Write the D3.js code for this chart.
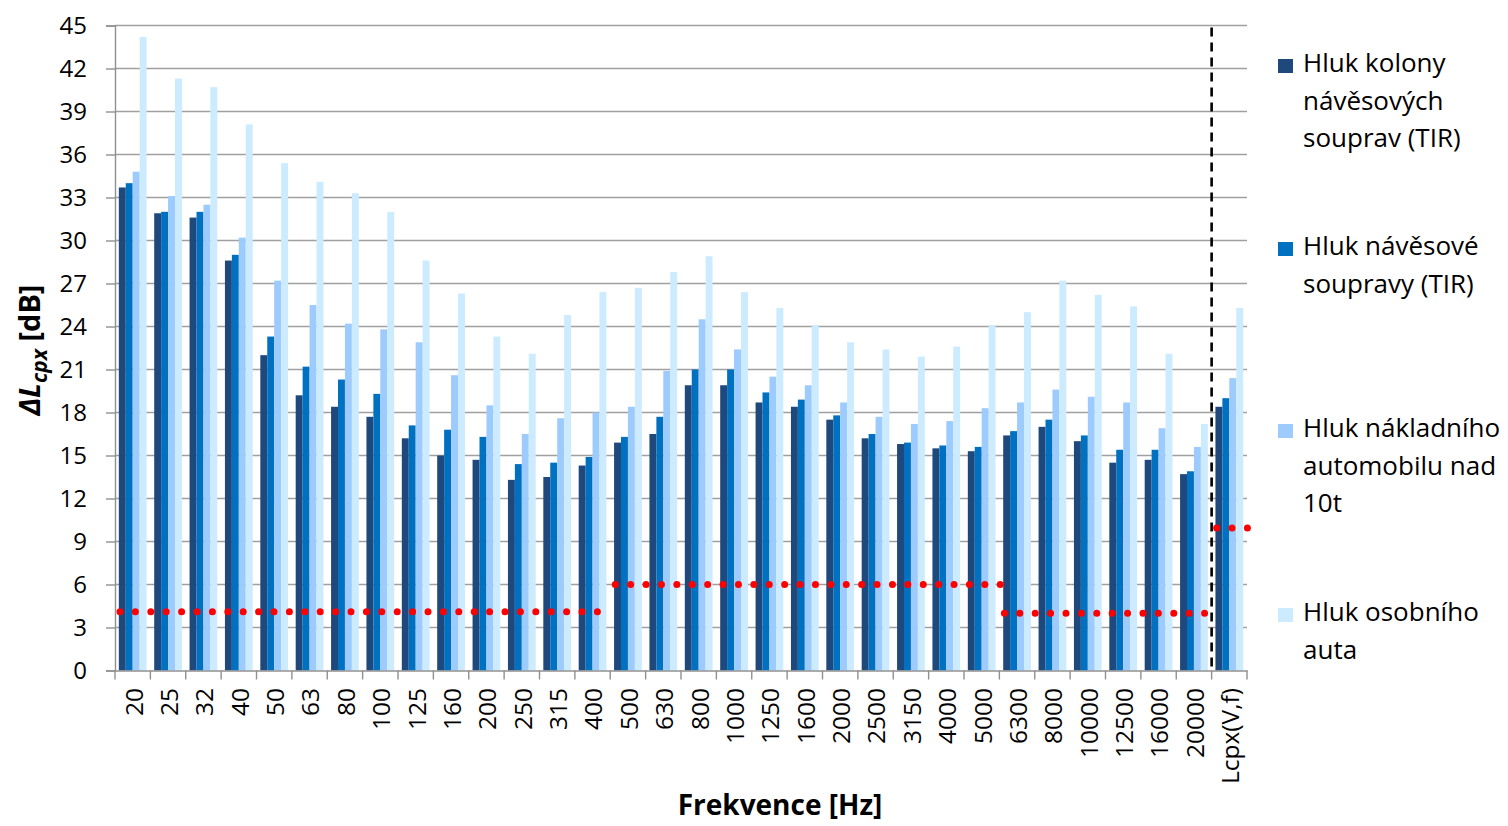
<!DOCTYPE html>
<html>
<head>
<meta charset="utf-8">
<script src="https://cdn.jsdelivr.net/npm/d3@7"></script>
<style>
  html, body { margin: 0; padding: 0; background: #fff; }
  svg { display: block; }
  text { font-family: "Open Sans", "DejaVu Sans", sans-serif; fill: #000; }
</style>
</head>
<body>
<svg id="chart" width="1508" height="826"></svg>
<script>
// ---- data ----
const categories = ["20","25","32","40","50","63","80","100","125","160","200","250","315","400","500","630","800","1000","1250","1600","2000","2500","3150","4000","5000","6300","8000","10000","12500","16000","20000","Lcpx(V,f)"];
const seriesNames = [
  ["Hluk kolony", "návěsových", "souprav (TIR)"],
  ["Hluk návěsové", "soupravy (TIR)"],
  ["Hluk nákladního", "automobilu nad", "10t"],
  ["Hluk osobního", "auta"]
];
const hlukKolony = [33.7,31.9,31.6,28.6,22.0,19.2,18.4,17.7,16.2,15.0,14.7,13.3,13.5,14.3,15.9,16.5,19.9,19.9,18.7,18.4,17.5,16.2,15.8,15.5,15.3,16.4,17.0,16.0,14.5,14.7,13.7,18.4];
const hlukSoupravy = [34.0,32.0,32.0,29.0,23.3,21.2,20.3,19.3,17.1,16.8,16.3,14.4,14.5,14.9,16.3,17.7,21.0,21.0,19.4,18.9,17.8,16.5,15.9,15.7,15.6,16.7,17.5,16.4,15.4,15.4,13.9,19.0];
const hlukNakladni = [34.8,33.1,32.5,30.2,27.2,25.5,24.2,23.8,22.9,20.6,18.5,16.5,17.6,18.0,18.4,20.9,24.5,22.4,20.5,19.9,18.7,17.7,17.2,17.4,18.3,18.7,19.6,19.1,18.7,16.9,15.6,20.4];
const hlukOsobni = [44.2,41.3,40.7,38.1,35.4,34.1,33.3,32.0,28.6,26.3,23.3,22.1,24.8,26.4,26.7,27.8,28.9,26.4,25.3,24.1,22.9,22.4,21.9,22.6,24.1,25.0,27.2,26.2,25.4,22.1,17.2,25.3];
const limitValues = [4.1,4.1,4.1,4.1,4.1,4.1,4.1,4.1,4.1,4.1,4.1,4.1,4.1,4.1,6,6,6,6,6,6,6,6,6,6,6,4,4,4,4,4,4,9.95];
const yTicks = [0,3,6,9,12,15,18,21,24,27,30,33,36,39,42,45];
const colors = ["#1F497D", "#0070C0", "#9DCBFD", "#CCEBFF"];

// ---- layout ----
const svg = d3.select("#chart");
const plotLeft = 115, plotRight = 1247, plotTop = 25.5, plotBottom = 670.5;

const x = d3.scaleBand().domain(categories).range([plotLeft, plotRight]).paddingInner(0).paddingOuter(0);
const inner = d3.scaleBand().domain([0,1,2,3]).range([0, x.bandwidth()]).paddingOuter(0.55).paddingInner(0);
const y = d3.scaleLinear().domain([0, 45]).range([plotBottom, plotTop]);

// gridlines
svg.append("g")
  .selectAll("line").data(yTicks.filter(d => d > 0)).join("line")
  .attr("x1", plotLeft).attr("x2", plotRight)
  .attr("y1", d => y(d)).attr("y2", d => y(d))
  .attr("stroke", "#A0A0A0").attr("stroke-width", 1.4);

// y axis
const yAxis = svg.append("g").attr("transform", `translate(${plotLeft},0)`)
  .call(d3.axisLeft(y).tickValues(yTicks).tickSize(9).tickPadding(19));
yAxis.select(".domain").attr("stroke", "#909090").attr("stroke-width", 1.4);
yAxis.selectAll(".tick line").attr("stroke", "#909090").attr("stroke-width", 1.4);
yAxis.selectAll("text").attr("font-size", "24px").attr("font-family", "Open Sans").attr("fill", "#000");

// bars
const series = [hlukKolony, hlukSoupravy, hlukNakladni, hlukOsobni];
series.forEach((vals, si) => {
  svg.append("g").selectAll("rect").data(vals).join("rect")
    .attr("x", (d, i) => x(categories[i]) + inner(si))
    .attr("width", inner.bandwidth())
    .attr("y", d => y(d))
    .attr("height", d => y(0) - y(d))
    .attr("fill", colors[si]);
});

// x axis
const xAxis = svg.append("g").attr("transform", `translate(0,${plotBottom})`)
  .call(d3.axisBottom(x).tickSize(0).tickFormat(""));
xAxis.select(".domain").attr("stroke", "#909090").attr("stroke-width", 1.4);
// tick marks at band boundaries
const bounds = categories.map(c => x(c)).concat([plotRight]);
svg.append("g").selectAll("line").data(bounds).join("line")
  .attr("x1", d => d).attr("x2", d => d)
  .attr("y1", plotBottom).attr("y2", plotBottom + 9)
  .attr("stroke", "#909090").attr("stroke-width", 1.4);
// x labels rotated
svg.append("g").selectAll("text").data(categories).join("text")
  .attr("transform", d => `translate(${x(d) + x.bandwidth()/2 + 1},688) rotate(-90)`)
  .attr("text-anchor", "end")
  .attr("dy", "0.36em")
  .attr("font-size", "24.5px")
  .text(d => d);

// limit dotted line segments (runs of equal values)
const runs = [];
limitValues.forEach((v, i) => {
  const last = runs[runs.length - 1];
  if (last && last.v === v) last.end = i; else runs.push({ v, start: i, end: i });
});
svg.append("g").selectAll("path").data(runs).join("path")
  .attr("d", r => d3.line()([[x(categories[r.start]) + 5, y(r.v)], [x(categories[r.end]) + x.bandwidth() + 1.5, y(r.v)]]))
  .attr("stroke", "#FF0000").attr("stroke-width", 7)
  .attr("stroke-linecap", "round")
  .attr("stroke-dasharray", "0 15.4")
  .attr("fill", "none");

// vertical dashed separator
const sepX = x(categories[categories.length - 1]);
svg.append("line")
  .attr("x1", sepX).attr("x2", sepX)
  .attr("y1", y(45) + 2).attr("y2", plotBottom - 2)
  .attr("stroke", "#000").attr("stroke-width", 2.6)
  .attr("stroke-dasharray", "9 6");

// axis titles
svg.append("text")
  .attr("x", 780).attr("y", 815)
  .attr("text-anchor", "middle")
  .attr("font-size", "28px").attr("font-weight", "bold")
  .text("Frekvence [Hz]");

const yt = svg.append("text")
  .attr("transform", "translate(40,350) rotate(-90)")
  .attr("text-anchor", "middle")
  .attr("font-size", "29px").attr("font-weight", "bold");
yt.append("tspan").attr("font-style", "italic").text("ΔL");
yt.append("tspan").attr("font-style", "italic").attr("font-size", "21px").attr("dy", "7").text("cpx");
yt.append("tspan").attr("dy", "-7").text(" [dB]");

// legend
const legendTops = [72, 255, 437, 621];
const lineH = 37.7;
seriesNames.forEach((lines, i) => {
  const g = svg.append("g");
  g.append("rect")
    .attr("x", 1278).attr("y", legendTops[i] - 13)
    .attr("width", 15).attr("height", 14)
    .attr("fill", colors[i]);
  const t = g.append("text").attr("x", 1303).attr("y", legendTops[i]).attr("font-size", "26px");
  lines.forEach((ln, j) => {
    t.append("tspan").attr("x", 1303).attr("y", legendTops[i] + j * lineH).text(ln);
  });
});
</script>
</body>
</html>
